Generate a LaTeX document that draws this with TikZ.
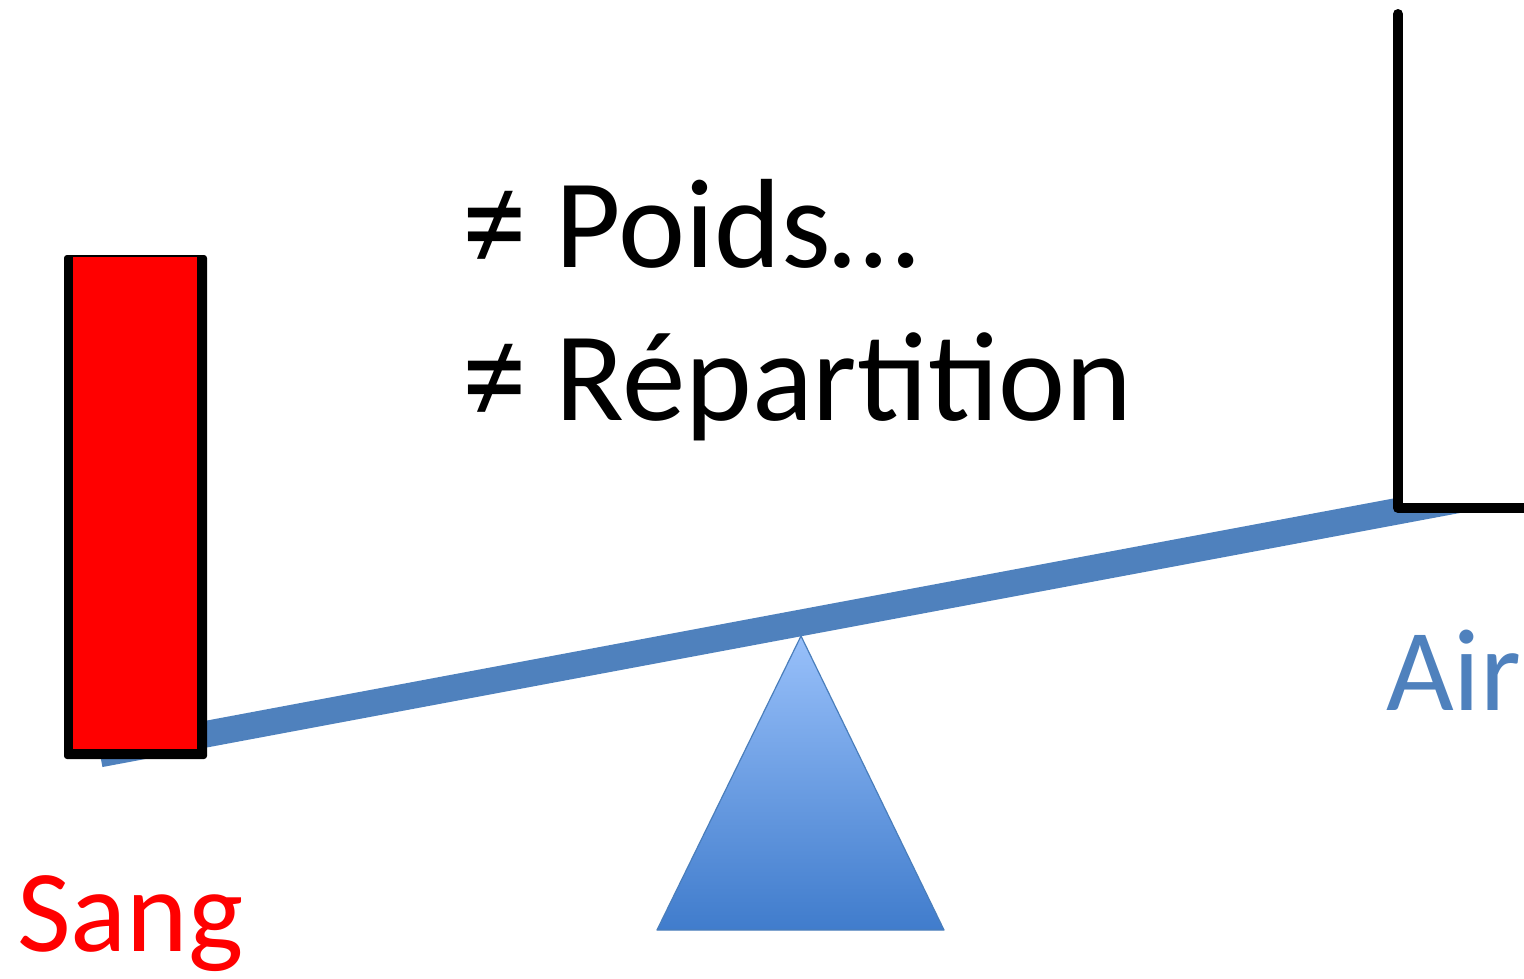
\documentclass[tikz,border=0pt]{standalone}
\usepackage{fontspec}
\setmainfont{Carlito}
\definecolor{beamblue}{RGB}{79,129,189}
\definecolor{trilight}{RGB}{152,192,250}
\definecolor{tridark}{RGB}{64,124,204}
\definecolor{triedge}{RGB}{74,126,187}
\newcommand{\bigne}{\raisebox{-5pt}{\scalebox{1.02}[1.18]{≠}}}
\tikzset{
  bigtext/.style={anchor=base west, inner sep=0pt, font=\fontsize{127}{150}\selectfont},
  labeltext/.style={anchor=base west, inner sep=0pt, font=\fontsize{117}{130}\selectfont},
}
\begin{document}
\begin{tikzpicture}[x=1pt,y=-1pt]
\useasboundingbox (0,0) rectangle (1524,978);
\clip (0,0) rectangle (1524,978);

% fulcrum
\shade[top color=trilight, bottom color=tridark]
  (801,636) -- (944,930) -- (657,930) -- cycle;
\draw[triedge, line width=1.2pt, line join=round]
  (801,636) -- (944,930) -- (657,930) -- cycle;

% beam
\draw[beamblue, line width=26.5pt] (100,754) -- (1500,492);

% air container (white, covering the beam end)
\fill[white] (1398,9) rectangle (1540,508);
\draw[black, line width=10pt, line cap=round, line join=round]
  (1398,14) -- (1398,508) -- (1540,508);

% blood container
\fill[black, rounded corners=3pt] (64,255) rectangle (207,759);
\fill[red] (73,257) rectangle (197,749);

% labels
\node[bigtext] (poids) at (462,267) {\bigne{} Poids…};
\node[bigtext] (repart) at (462,420) {\bigne{} Répartition};
\node[labeltext, text=red] (sang) at (17,951) {Sang};
\node[labeltext, text=beamblue] (air) at (1386,710) {Air};
\end{tikzpicture}
\end{document}
